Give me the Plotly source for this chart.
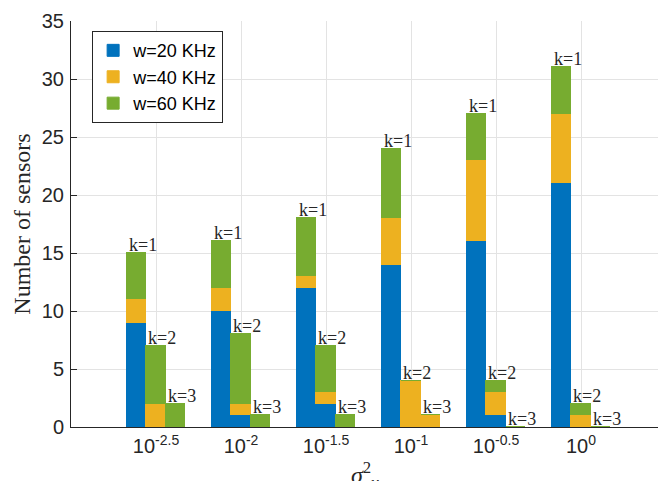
import plotly.graph_objects as go

# ---- data ----
group_labels = ["10<sup>-2.5</sup>", "10<sup>-2</sup>", "10<sup>-1.5</sup>",
                "10<sup>-1</sup>", "10<sup>-0.5</sup>", "10<sup>0</sup>"]
k_labels = ["k=1", "k=2", "k=3"]
series_names = ["w=20 KHz", "w=40 KHz", "w=60 KHz"]
# rows: k=1, k=2, k=3 ; columns: groups (stack increments)
w20 = [[9, 10, 12, 14, 16, 21],
       [0, 1, 2, 0, 1, 0],
       [0, 0, 0, 0, 0, 0]]
w40 = [[2, 2, 1, 4, 7, 6],
       [2, 1, 1, 4, 2, 1],
       [0, 0, 0, 1, 0, 0]]
w60 = [[4, 4, 5, 6, 4, 4],
       [5, 6, 4, 0, 1, 1],
       [2, 1, 1, 0, 0, 0]]
colors = ["#0072BD", "#EDB120", "#77AC30"]

# ---- layout helpers ----
bar_w = 0.225
n_groups = len(group_labels)
group_pos = [g + 1 for g in range(n_groups)]

xs = []
for ki in range(len(k_labels)):
    for g in range(n_groups):
        xs.append(group_pos[g] + (ki - 1) * bar_w)

fig = go.Figure()
for name, data, col in zip(series_names, [w20, w40, w60], colors):
    ys = [data[ki][g] for ki in range(len(k_labels)) for g in range(n_groups)]
    fig.add_trace(go.Bar(
        x=xs, y=ys, name=name, width=bar_w,
        marker=dict(color=col, line=dict(color=col, width=1)),
    ))

# k labels above stacks
annotations = []
for ki in range(len(k_labels)):
    for g in range(n_groups):
        total = w20[ki][g] + w40[ki][g] + w60[ki][g]
        annotations.append(dict(
            x=group_pos[g] + (ki - 1) * bar_w - bar_w / 2, y=total,
            xref="x", yref="y", text=k_labels[ki], showarrow=False,
            xanchor="left", yanchor="bottom", yshift=-4,
            font=dict(family="Liberation Serif, Times New Roman, serif", size=18, color="#262626"),
        ))

# x label (sigma^2_v), partially cut at the bottom as in the reference
annotations.append(dict(
    x=0.5, y=-0.072, xref="paper", yref="paper", showarrow=False,
    xanchor="center", yanchor="top",
    text="<i>σ</i><sup>2</sup><sub><i>v</i></sub>",
    font=dict(family="Liberation Serif, Times New Roman, serif", size=24, color="#262626"),
))

axis_color = "#262626"
grid_color = "#e3e3e3"

fig.update_layout(
    width=658, height=481,
    margin=dict(l=71, r=0, t=21, b=54),
    paper_bgcolor="white", plot_bgcolor="white",
    barmode="stack",
    bargap=0,
    showlegend=True,
    legend=dict(
        x=0.036, y=0.975, xanchor="left", yanchor="top",
        traceorder="normal",
        bgcolor="white", bordercolor=axis_color, borderwidth=1,
        font=dict(family="Liberation Sans, Arial, sans-serif", size=18, color="black"),
        tracegroupgap=0, itemwidth=30,
    ),
    font=dict(family="Liberation Sans, Arial, sans-serif", size=20, color=axis_color),
    annotations=annotations,
    xaxis=dict(
        range=[0, 587 / 85.0], automargin=False,
        tickmode="array", tickvals=group_pos, ticktext=group_labels,
        showgrid=True, gridcolor=grid_color, gridwidth=1,
        showline=True, linecolor=axis_color, linewidth=1,
        ticks="", zeroline=False, ticklabelstandoff=1,
        tickfont=dict(size=20, color=axis_color),
    ),
    yaxis=dict(
        range=[0, 35], automargin=False,
        tickmode="array", tickvals=[0, 5, 10, 15, 20, 25, 30, 35],
        showgrid=True, gridcolor=grid_color, gridwidth=1,
        showline=True, linecolor=axis_color, linewidth=1,
        ticks="inside", ticklen=6, tickcolor=axis_color,
        zeroline=False, ticklabelstandoff=2,
        tickfont=dict(size=20, color=axis_color),
        title=dict(text="Number of sensors", standoff=4,
                   font=dict(family="Liberation Serif, Times New Roman, serif", size=24, color=axis_color)),
    ),
)

fig.write_html("out.html",
               config={"displayModeBar": False},
               post_script="document.body.style.margin='0';document.body.style.overflow='hidden';")
